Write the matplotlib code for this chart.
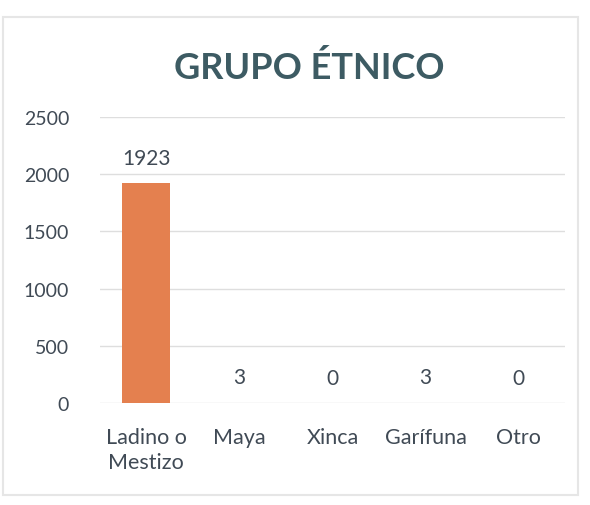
import matplotlib.pyplot as plt
from matplotlib.patches import Rectangle

# data
categorias = ["Ladino o\nMestizo", "Maya", "Xinca", "Garífuna", "Otro"]
valores = [1923, 3, 0, 3, 0]
ticks_y = [0, 500, 1000, 1500, 2000, 2500]

plt.rcParams['font.family'] = ['Lato', 'DejaVu Sans']
texto = '#404a55'

fig = plt.figure(figsize=(5.9, 5.06), dpi=100)
ax = fig.add_axes([0.169, 0.2016, 0.789, 0.565])

x = range(len(categorias))
barras = ax.bar(x, valores, width=0.52, color='#e4804f', zorder=3)

for xi, v in zip(x, valores):
    ax.annotate(str(v), (xi, v), xytext=(0, 11), textcoords='offset points',
                ha='center', va='bottom', fontsize=15, color=texto)

ax.set_xlim(-0.5, len(categorias) - 0.5)
ax.set_ylim(0, 2500)
ax.set_yticks(ticks_y)
ax.set_xticks(list(x))
ax.set_xticklabels(categorias, linespacing=1.35)
ax.tick_params(axis='both', length=0, colors=texto)
ax.tick_params(axis='x', pad=17, labelsize=15.5)
ax.tick_params(axis='y', pad=22, labelsize=14)
ax.grid(axis='y', color='#dedede', linewidth=1, zorder=0)
for s in ax.spines.values():
    s.set_visible(False)

fig.text(0.525, 0.866, "GRUPO ÉTNICO", ha='center', va='center',
         fontsize=26, fontweight='bold', color='#3d5b63')

# light chart border
fig.patches.append(Rectangle((0.005, 0.02), 0.975, 0.945, transform=fig.transFigure,
                             fill=False, edgecolor='#e6e6e6', linewidth=1.5))

fig.savefig('out.png', dpi=100, facecolor='white')
